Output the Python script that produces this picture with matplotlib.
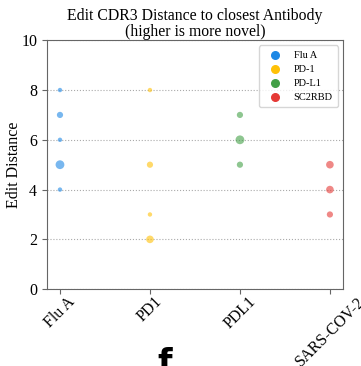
import matplotlib.pyplot as plt
import numpy as np

plt.rcParams['font.family'] = ['Liberation Serif', 'DejaVu Serif']

categories = ['Flu A', 'PD1', 'PDL1', 'SARS-COV-2']
legend_names = ['Flu A', 'PD-1', 'PD-L1', 'SC2RBD']
colors = ['#1E88E5', '#FFC107', '#43A047', '#E53935']

# edit distance values and how many antibodies share each value
distances = [
    [8, 7, 6, 5, 4],
    [8, 5, 3, 2],
    [7, 6, 5],
    [5, 4, 3],
]
counts = [
    [1, 2, 1, 4, 1],
    [1, 2, 1, 3],
    [2, 4, 2],
    [3, 3, 2],
]

fig, ax = plt.subplots(figsize=(3.61, 3.66), dpi=100)
fig.subplots_adjust(left=0.13, right=0.95, bottom=0.21, top=0.89)

for i, (d, c) in enumerate(zip(distances, counts)):
    ax.scatter(np.full(len(d), i), d, s=np.array(c) * 10, color=colors[i],
               alpha=0.6, edgecolors='none', zorder=3)
    ax.scatter([], [], s=30, color=colors[i], label=legend_names[i])

ax.set_xlim(-0.145, 3.145)
ax.set_ylim(0, 10)
ax.set_yticks([0, 2, 4, 6, 8, 10])
ax.set_xticks(range(len(categories)))
ax.set_xticklabels(categories, rotation=45, ha='center')
ax.tick_params(labelsize=11.5, color='#666666')
ax.tick_params(axis='x', pad=0)
ax.yaxis.grid(True, linestyle=':', color='#aaaaaa', linewidth=0.8)
for sp in ax.spines.values():
    sp.set_color('#666666')

ax.set_ylabel('Edit Distance', fontsize=11.5)
ax.yaxis.set_label_coords(-0.085, 0.5)
ax.set_title('Edit CDR3 Distance to closest Antibody\n(higher is more novel)',
             fontsize=11.3, linespacing=1.0, pad=2)
ax.legend(loc='upper right', fontsize=7.5, handletextpad=0.8,
          borderpad=0.5, labelspacing=0.45)

fig.text(0.455, -0.02, 'f', fontsize=24, fontweight='bold', family='DejaVu Sans',
         ha='center')

plt.savefig('out.png', dpi=100)
